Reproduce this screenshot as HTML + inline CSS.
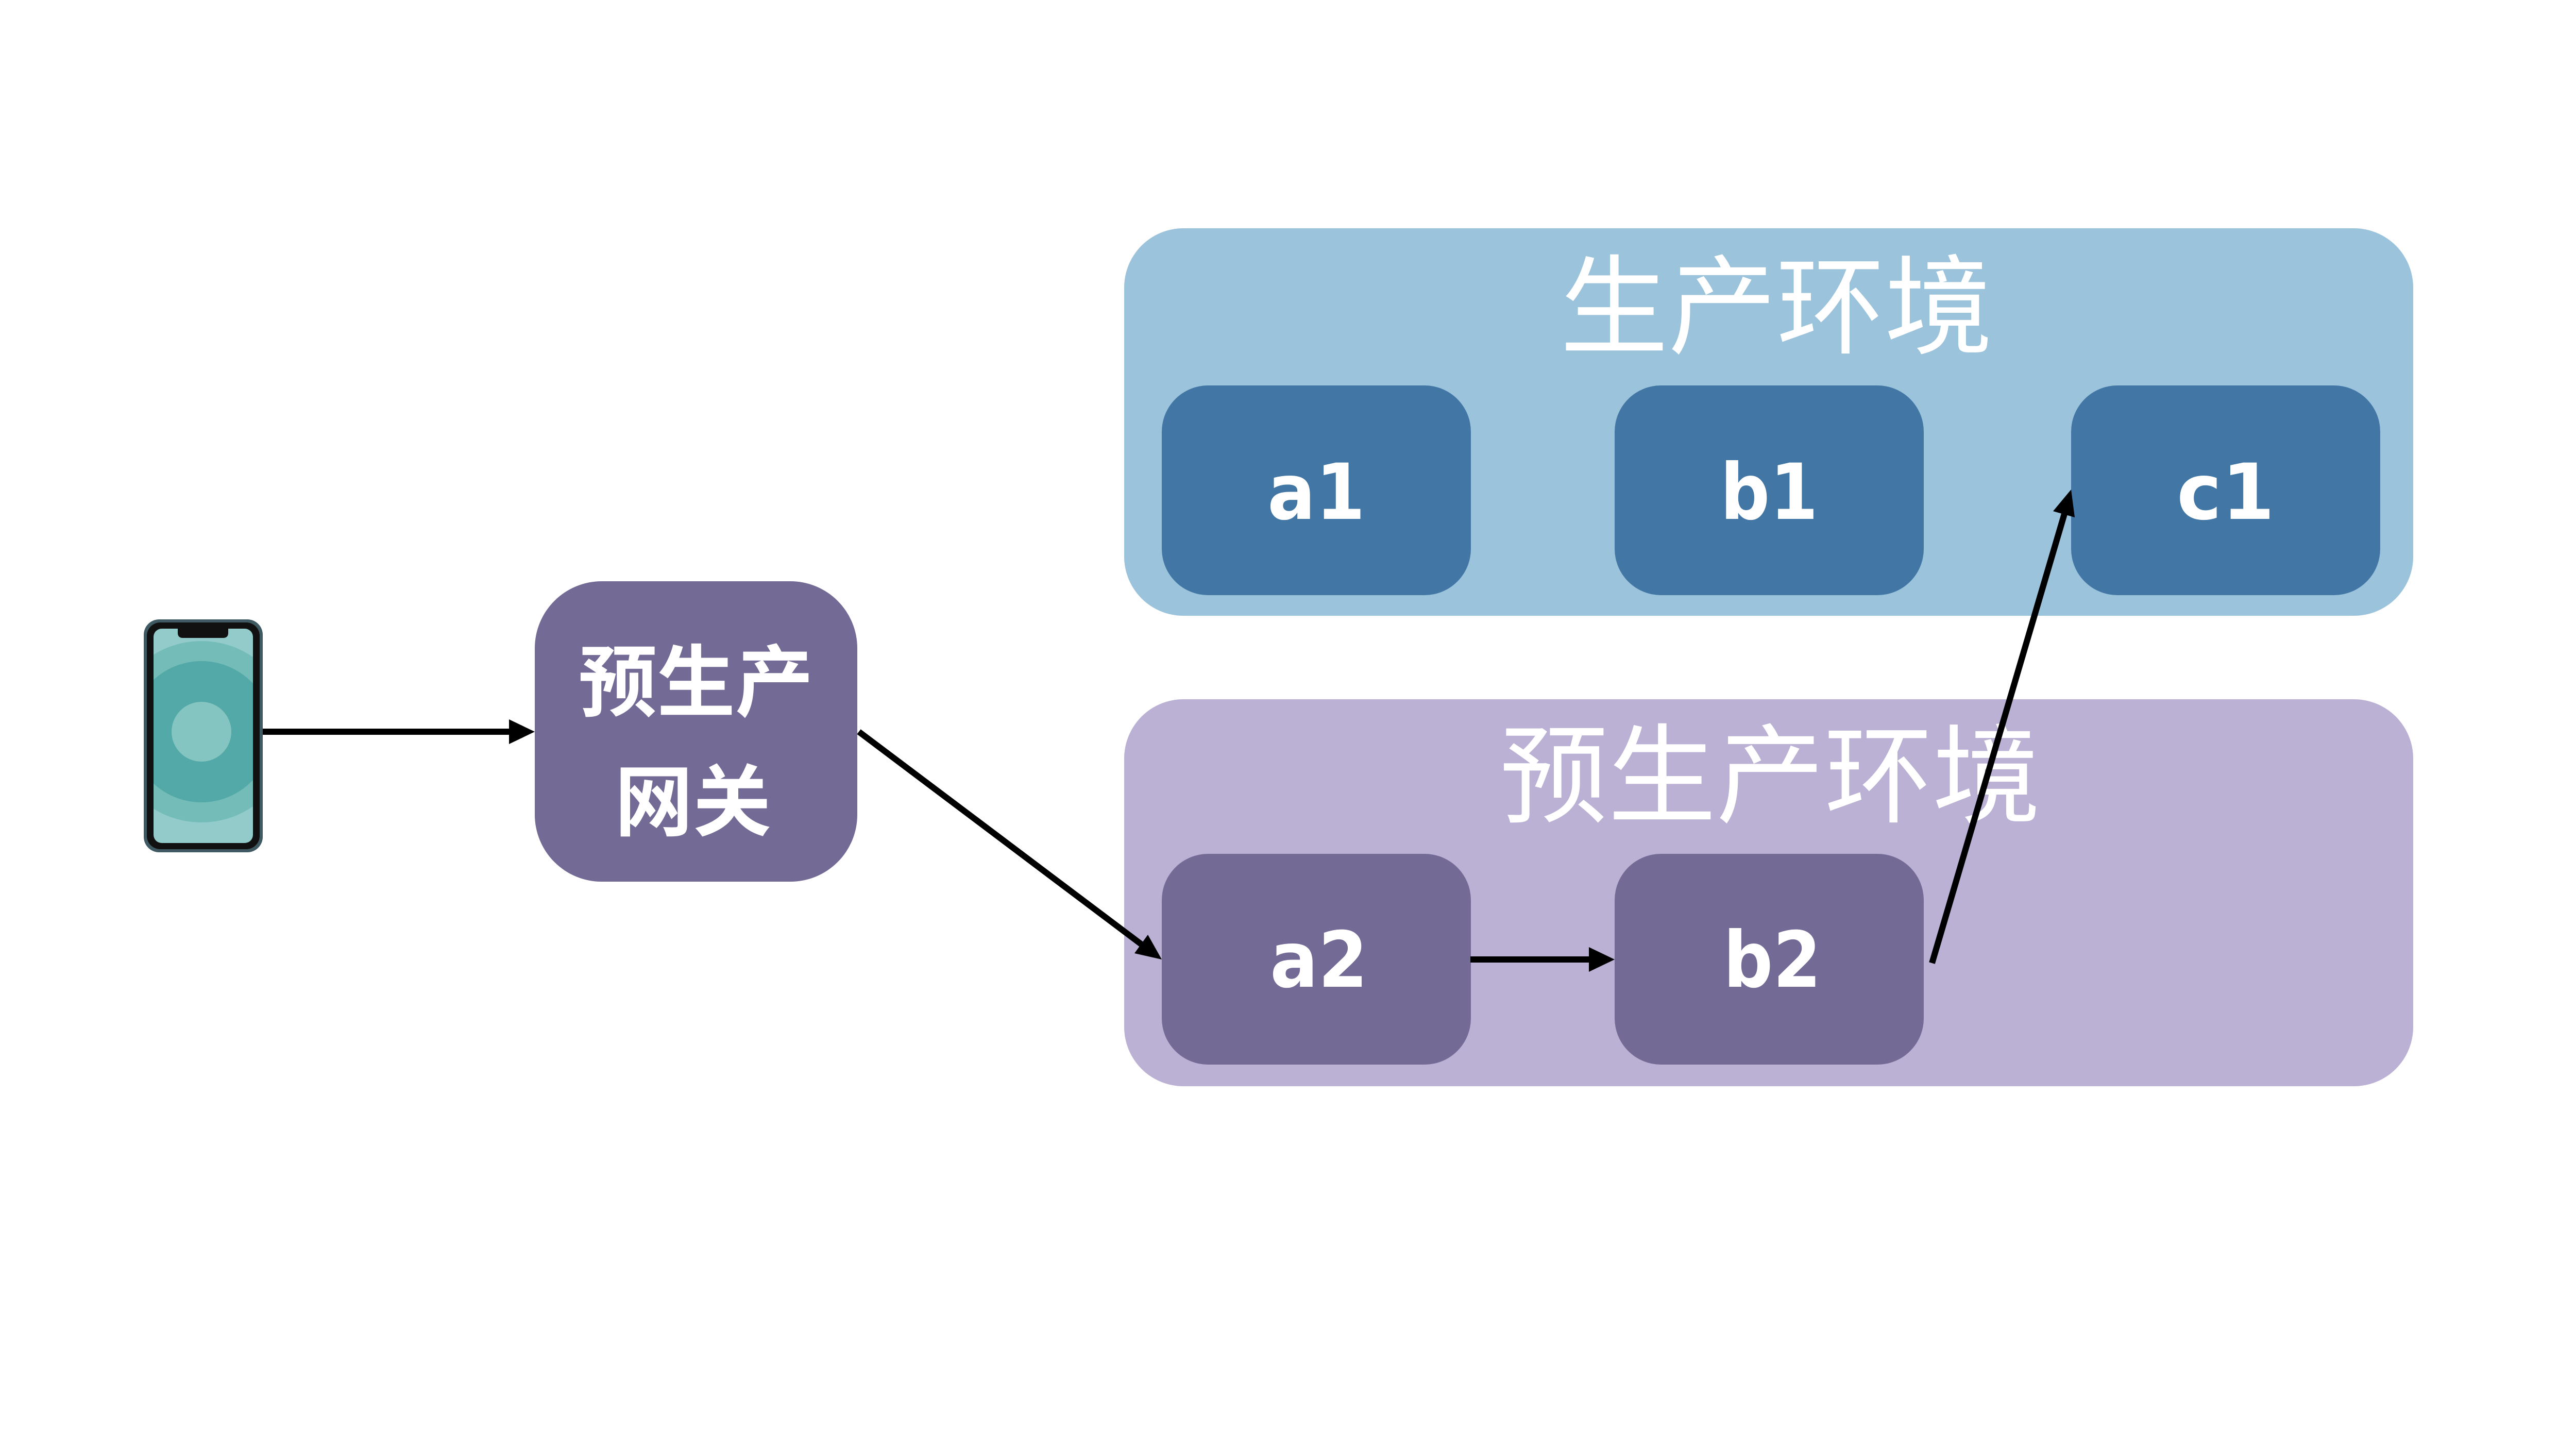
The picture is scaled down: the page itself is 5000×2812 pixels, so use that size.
<!DOCTYPE html>
<html><head><meta charset="utf-8"><style>html,body{margin:0;padding:0;background:#fff}svg{display:block}</style></head>
<body>
<svg width="5000" height="2812" viewBox="0 0 5000 2812" xmlns="http://www.w3.org/2000/svg">
<rect x="0" y="0" width="5000" height="2812" fill="#fff"/>
<rect x="2182" y="443" width="2502" height="752" rx="115" fill="#9BC3DB"/>
<rect x="2182" y="1357" width="2502" height="751" rx="115" fill="#BAB1D4"/>
<text x="3448" y="670" font-family="Liberation Sans, Noto Sans CJK SC, sans-serif" font-size="210" fill="#fff" text-anchor="middle">生产环境</text>
<text x="3436" y="1580" font-family="Liberation Sans, Noto Sans CJK SC, sans-serif" font-size="210" fill="#fff" text-anchor="middle">预生产环境</text>
<g font-family="DejaVu Sans, Liberation Sans, sans-serif" font-weight="bold" font-size="150" fill="#fff" text-anchor="middle">
<rect x="2255" y="748" width="600" height="407" rx="90" fill="#4176A5"/>
<rect x="3134" y="748" width="600" height="407" rx="90" fill="#4176A5"/>
<rect x="4020" y="748" width="600" height="407" rx="90" fill="#4176A5"/>
<text x="2555" y="1007" textLength="190" lengthAdjust="spacingAndGlyphs">a1</text>
<text x="3434" y="1007" textLength="190" lengthAdjust="spacingAndGlyphs">b1</text>
<text x="4320" y="1007" textLength="190" lengthAdjust="spacingAndGlyphs">c1</text>
<rect x="2255" y="1657" width="600" height="409" rx="90" fill="#736A96"/>
<rect x="3134" y="1657" width="600" height="409" rx="90" fill="#736A96"/>
<text x="2560" y="1915" textLength="190" lengthAdjust="spacingAndGlyphs">a2</text>
<text x="3440" y="1915" textLength="190" lengthAdjust="spacingAndGlyphs">b2</text>
</g>
<rect x="1038" y="1128" width="626" height="583" rx="130" fill="#736A96"/>
<g font-family="Liberation Sans, Noto Sans CJK SC, sans-serif" font-weight="bold" font-size="152" fill="#fff" text-anchor="middle">
<text x="1351" y="1378">预生产</text>
<text x="1345" y="1610">网关</text>
</g>
<g>
<rect x="279" y="1202" width="231" height="452" rx="30" fill="#3f5a63"/>
<rect x="285" y="1208" width="219" height="440" rx="26" fill="#111"/>
<rect x="298" y="1220" width="193" height="416" rx="16" fill="#93CBCA"/>
<clipPath id="scr"><rect x="298" y="1220" width="193" height="416" rx="16"/></clipPath>
<g clip-path="url(#scr)">
<circle cx="391" cy="1420" r="176" fill="#73BCB8"/>
<circle cx="391" cy="1420" r="137" fill="#52A9A7"/>
<circle cx="391" cy="1420" r="58" fill="#84C4C1"/>
</g>
<path d="M345,1218 h98 v10 q0,10 -10,10 h-78 q-10,0 -10,-10 z" fill="#111"/>
</g>
<g stroke="#000" stroke-width="12" fill="none">
<line x1="510" y1="1420" x2="995" y2="1420"/>
<line x1="1667" y1="1420" x2="2220" y2="1836"/>
<line x1="2854" y1="1862" x2="3090" y2="1862"/>
<line x1="3750" y1="1869" x2="4008" y2="994"/>
</g>
<g fill="#000">
<polygon points="1038,1420 988,1396 988,1444"/>
<polygon points="2255,1862 2202,1850 2228,1814"/>
<polygon points="3134,1862 3084,1838 3084,1886"/>
<polygon points="4020,950 4027,1004 3985,992"/>
</g>
</svg>
</body></html>
